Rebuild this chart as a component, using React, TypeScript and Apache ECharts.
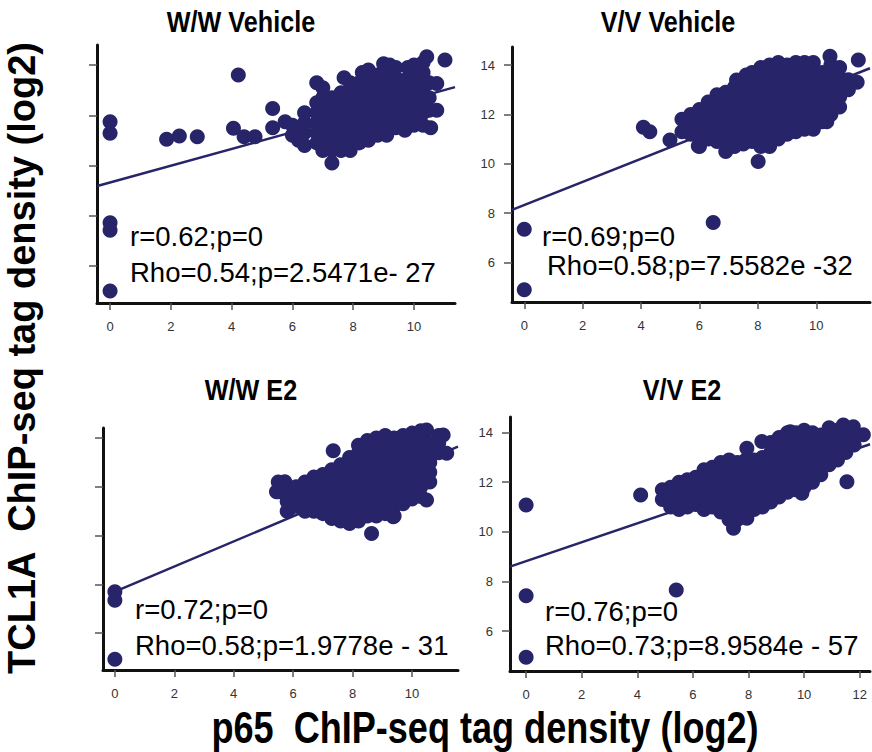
import React, { useEffect, useRef } from "react";
import * as echarts from "echarts";

// ---------- data ----------
const titles = ["W/W Vehicle", "V/V Vehicle", "W/W E2", "V/V E2"];
const statR = ["r=0.62;p=0", "r=0.69;p=0", "r=0.72;p=0", "r=0.76;p=0"];
const statRho = [
  "Rho=0.54;p=2.5471e- 27",
  "Rho=0.58;p=7.5582e -32",
  "Rho=0.58;p=1.9778e - 31",
  "Rho=0.73;p=8.9584e - 57",
];
const yAxisTitle = "TCL1A  ChIP-seq tag density (log2)";
const xAxisTitle = "p65  ChIP-seq tag density (log2)";
const xTicks = [0, 2, 4, 6, 8, 10];
const xTicksWide = [0, 2, 4, 6, 8, 10, 12];
const yTicks = [6, 8, 10, 12, 14];

const wwVehiclePoints: number[][] = [
  [0, 11.74], [0, 11.28], [0, 7.72], [0, 7.42], [0, 5.0],
  [1.86, 11.04], [2.28, 11.17], [2.87, 11.14], [4.22, 13.6], [4.06, 11.48],
  [4.41, 11.14], [4.77, 11.14], [5.35, 12.27], [5.35, 11.5], [5.76, 11.74],
  [6.0, 11.2], [6.0, 11.6], [6.2, 11.0], [6.2, 11.4],
  [6.4, 10.8], [6.4, 11.3], [6.4, 11.7], [6.4, 12.1],
  [6.8, 10.9], [6.8, 11.3], [6.8, 11.7], [6.8, 12.1], [6.8, 12.5], [6.8, 13.3],
  [7.0, 10.6], [7.0, 11.0], [7.0, 11.5], [7.0, 11.9], [7.0, 12.3], [7.0, 12.7], [7.0, 13.1],
  [7.3, 10.1], [7.3, 10.6], [7.3, 11.1], [7.3, 11.5], [7.3, 11.9], [7.3, 12.3], [7.3, 12.7],
  [7.6, 10.6], [7.6, 10.9], [7.6, 11.3], [7.6, 11.7], [7.6, 12.1], [7.6, 12.5], [7.6, 12.9], [7.7, 13.5],
  [7.9, 10.6], [7.9, 11.0], [7.9, 11.4], [7.9, 11.8], [7.9, 12.2], [7.9, 12.6], [7.9, 13.0], [7.9, 13.3],
  [8.2, 10.9], [8.2, 11.3], [8.2, 11.7], [8.2, 12.1], [8.2, 12.5], [8.2, 12.9], [8.2, 13.3], [8.3, 13.7],
  [8.5, 11.0], [8.5, 11.4], [8.5, 11.8], [8.5, 12.2], [8.5, 12.6], [8.5, 13.0], [8.5, 13.4], [8.5, 13.8],
  [8.8, 11.2], [8.8, 11.6], [8.8, 12.0], [8.8, 12.4], [8.8, 12.8], [8.8, 13.2], [8.8, 13.6], [9.0, 14.05],
  [9.1, 11.2], [9.1, 11.6], [9.1, 12.0], [9.1, 12.4], [9.1, 12.8], [9.1, 13.2], [9.1, 13.6], [9.2, 14.0],
  [9.4, 11.5], [9.4, 11.9], [9.4, 12.3], [9.4, 12.7], [9.4, 13.1], [9.4, 13.5], [9.4, 13.9],
  [9.7, 11.4], [9.7, 11.8], [9.7, 12.2], [9.7, 12.6], [9.7, 13.0], [9.7, 13.4], [9.8, 13.9],
  [10.0, 11.6], [10.0, 12.0], [10.0, 12.4], [10.0, 12.8], [10.0, 13.2], [10.0, 13.6], [10.0, 14.0],
  [10.3, 11.6], [10.3, 12.1], [10.3, 12.5], [10.3, 12.9], [10.3, 13.3], [10.3, 13.7], [10.3, 14.1],
  [10.55, 11.5], [10.5, 12.2], [10.5, 12.7], [10.5, 13.3], [10.42, 14.33],
  [10.75, 12.2], [10.75, 13.27], [11.02, 14.2],
];

const vvVehiclePoints: number[][] = [
  [0, 7.35], [0, 4.9], [6.47, 7.62], [4.08, 11.48], [4.3, 11.3], [4.99, 10.96],
  [5.96, 10.72], [8.01, 10.09], [10.47, 14.36], [11.44, 14.2], [10.36, 11.7], [7.27, 13.39],
  [5.4, 11.3], [5.4, 11.8],
  [5.7, 11.2], [5.7, 11.6], [5.7, 12.0],
  [6.0, 10.7], [6.0, 11.1], [6.0, 11.5], [6.0, 11.9], [6.0, 12.2],
  [6.3, 11.0], [6.3, 11.4], [6.3, 11.8], [6.3, 12.2], [6.3, 12.5],
  [6.6, 10.9], [6.6, 11.3], [6.6, 11.7], [6.6, 12.1], [6.6, 12.5], [6.6, 12.8],
  [6.9, 10.5], [6.9, 10.9], [6.9, 11.3], [6.9, 11.7], [6.9, 12.1], [6.9, 12.5], [6.9, 12.9],
  [7.2, 10.7], [7.2, 11.1], [7.2, 11.5], [7.2, 11.9], [7.2, 12.3], [7.2, 12.7], [7.2, 13.1],
  [7.5, 10.8], [7.5, 11.2], [7.5, 11.6], [7.5, 12.0], [7.5, 12.4], [7.5, 12.8], [7.5, 13.2], [7.6, 13.6],
  [7.8, 10.9], [7.8, 11.3], [7.8, 11.7], [7.8, 12.1], [7.8, 12.5], [7.8, 12.9], [7.8, 13.3], [7.8, 13.7],
  [8.1, 10.7], [8.1, 11.1], [8.1, 11.5], [8.1, 11.9], [8.1, 12.3], [8.1, 12.7], [8.1, 13.1], [8.1, 13.5], [8.1, 13.9],
  [8.4, 10.7], [8.4, 11.1], [8.4, 11.5], [8.4, 11.9], [8.4, 12.3], [8.4, 12.7], [8.4, 13.1], [8.4, 13.5], [8.4, 14.0],
  [8.7, 11.0], [8.7, 11.4], [8.7, 11.8], [8.7, 12.2], [8.7, 12.6], [8.7, 13.0], [8.7, 13.4], [8.7, 13.8], [8.7, 14.1],
  [9.0, 11.2], [9.0, 11.6], [9.0, 12.0], [9.0, 12.4], [9.0, 12.8], [9.0, 13.2], [9.0, 13.6], [9.0, 14.0],
  [9.3, 11.3], [9.3, 11.7], [9.3, 12.1], [9.3, 12.5], [9.3, 12.9], [9.3, 13.3], [9.3, 13.7], [9.3, 14.1],
  [9.6, 11.4], [9.6, 11.8], [9.6, 12.2], [9.6, 12.6], [9.6, 13.0], [9.6, 13.4], [9.6, 13.8], [9.6, 14.1],
  [9.9, 11.4], [9.9, 11.8], [9.9, 12.2], [9.9, 12.6], [9.9, 13.0], [9.9, 13.4], [9.9, 13.8], [9.9, 14.1],
  [10.2, 11.7], [10.2, 12.1], [10.2, 12.5], [10.2, 12.9], [10.2, 13.3], [10.2, 13.7],
  [10.5, 12.0], [10.5, 12.4], [10.5, 12.8], [10.5, 13.2], [10.5, 13.6], [10.5, 14.0],
  [10.8, 12.3], [10.8, 12.7], [10.8, 13.1], [10.8, 13.5], [10.8, 13.9],
  [11.1, 13.0], [11.1, 13.4], [11.4, 13.3],
];

const wwE2Points: number[][] = [
  [0, 7.7], [0, 7.35], [0, 4.93], [7.35, 13.48], [5.72, 12.21], [5.44, 11.8],
  [5.84, 11.05], [8.64, 10.09], [9.37, 10.77], [10.49, 14.33], [11.05, 14.12],
  [11.17, 13.37], [10.49, 11.46],
  [5.5, 11.8], [5.5, 12.2],
  [5.8, 11.0], [5.8, 11.4], [5.8, 11.8],
  [6.1, 11.2], [6.1, 11.6], [6.1, 12.0],
  [6.4, 11.0], [6.4, 11.4], [6.4, 11.8], [6.4, 12.2],
  [6.7, 11.0], [6.7, 11.3], [6.7, 11.7], [6.7, 12.1], [6.7, 12.4],
  [7.0, 10.9], [7.0, 11.3], [7.0, 11.7], [7.0, 12.1], [7.0, 12.5],
  [7.3, 10.7], [7.3, 11.1], [7.3, 11.5], [7.3, 11.9], [7.3, 12.3], [7.3, 12.7],
  [7.6, 10.6], [7.6, 11.0], [7.6, 11.4], [7.6, 11.8], [7.6, 12.2], [7.6, 12.6], [7.6, 12.9],
  [7.9, 10.5], [7.9, 10.9], [7.9, 11.3], [7.9, 11.7], [7.9, 12.1], [7.9, 12.5], [7.9, 12.9], [7.9, 13.2],
  [8.2, 10.6], [8.2, 11.0], [8.2, 11.4], [8.2, 11.8], [8.2, 12.2], [8.2, 12.6], [8.2, 13.0], [8.2, 13.4], [8.2, 13.7],
  [8.5, 10.8], [8.5, 11.2], [8.5, 11.6], [8.5, 12.0], [8.5, 12.4], [8.5, 12.8], [8.5, 13.2], [8.5, 13.6], [8.5, 13.9],
  [8.8, 10.8], [8.8, 11.2], [8.8, 11.6], [8.8, 12.0], [8.8, 12.4], [8.8, 12.8], [8.8, 13.2], [8.8, 13.6], [8.8, 14.0],
  [9.1, 10.9], [9.1, 11.3], [9.1, 11.7], [9.1, 12.1], [9.1, 12.5], [9.1, 12.9], [9.1, 13.3], [9.1, 13.7], [9.1, 14.1],
  [9.4, 10.8], [9.4, 11.2], [9.4, 11.6], [9.4, 12.0], [9.4, 12.4], [9.4, 12.8], [9.4, 13.2], [9.4, 13.6], [9.4, 14.0],
  [9.7, 11.3], [9.7, 11.7], [9.7, 12.1], [9.7, 12.5], [9.7, 12.9], [9.7, 13.3], [9.7, 13.7], [9.7, 14.1],
  [10.0, 11.5], [10.0, 11.9], [10.0, 12.3], [10.0, 12.7], [10.0, 13.1], [10.0, 13.5], [10.0, 13.9], [10.0, 14.2],
  [10.3, 11.6], [10.3, 12.0], [10.3, 12.4], [10.3, 12.8], [10.3, 13.2], [10.3, 13.6], [10.3, 14.0], [10.3, 14.3],
  [10.6, 12.2], [10.6, 12.6], [10.6, 13.0], [10.6, 13.4], [10.6, 13.8],
  [10.9, 13.4], [10.9, 13.8], [10.9, 14.1],
];

const vvE2Points: number[][] = [
  [0, 11.08], [0, 7.42], [0, 4.94], [5.4, 7.66], [4.12, 11.49], [11.54, 12.02],
  [7.94, 13.37], [8.48, 13.64], [7.46, 10.14], [7.94, 10.55], [9.92, 11.56],
  [11.41, 14.31], [11.77, 14.24], [12.13, 13.91], [9.5, 14.04],
  [4.9, 11.3], [4.9, 11.7],
  [5.2, 11.0], [5.2, 11.4], [5.2, 11.8],
  [5.5, 10.9], [5.5, 11.3], [5.5, 11.7], [5.5, 12.0],
  [5.8, 11.0], [5.8, 11.4], [5.8, 11.8], [5.8, 12.1],
  [6.1, 11.1], [6.1, 11.5], [6.1, 11.9], [6.1, 12.2],
  [6.4, 10.9], [6.4, 11.3], [6.4, 11.7], [6.4, 12.1], [6.4, 12.5],
  [6.7, 11.0], [6.7, 11.4], [6.7, 11.8], [6.7, 12.2], [6.7, 12.6],
  [7.0, 10.8], [7.0, 11.2], [7.0, 11.6], [7.0, 12.0], [7.0, 12.4], [7.0, 12.8],
  [7.3, 10.5], [7.3, 10.9], [7.3, 11.3], [7.3, 11.7], [7.3, 12.1], [7.3, 12.5], [7.3, 12.9],
  [7.6, 10.5], [7.6, 10.9], [7.6, 11.3], [7.6, 11.7], [7.6, 12.1], [7.6, 12.5], [7.6, 12.8],
  [7.9, 10.6], [7.9, 11.0], [7.9, 11.4], [7.9, 11.8], [7.9, 12.2], [7.9, 12.6], [7.9, 12.9],
  [8.2, 10.9], [8.2, 11.3], [8.2, 11.7], [8.2, 12.1], [8.2, 12.5], [8.2, 12.9],
  [8.5, 11.0], [8.5, 11.4], [8.5, 11.8], [8.5, 12.2], [8.5, 12.6], [8.5, 13.0],
  [8.8, 11.2], [8.8, 11.6], [8.8, 12.0], [8.8, 12.4], [8.8, 12.8], [8.8, 13.2], [8.8, 13.6],
  [9.1, 11.4], [9.1, 11.8], [9.1, 12.2], [9.1, 12.6], [9.1, 13.0], [9.1, 13.4], [9.1, 13.8],
  [9.4, 11.6], [9.4, 12.0], [9.4, 12.4], [9.4, 12.8], [9.4, 13.2], [9.4, 13.6], [9.4, 14.0],
  [9.7, 11.7], [9.7, 12.1], [9.7, 12.5], [9.7, 12.9], [9.7, 13.3], [9.7, 13.7], [9.7, 14.0],
  [10.0, 11.8], [10.0, 12.2], [10.0, 12.6], [10.0, 13.0], [10.0, 13.4], [10.0, 13.8], [10.0, 14.1],
  [10.3, 12.0], [10.3, 12.4], [10.3, 12.8], [10.3, 13.2], [10.3, 13.6], [10.3, 14.0],
  [10.6, 12.3], [10.6, 12.7], [10.6, 13.1], [10.6, 13.5], [10.6, 13.9],
  [10.9, 12.7], [10.9, 13.1], [10.9, 13.5], [10.9, 13.9], [10.9, 14.2],
  [11.2, 12.9], [11.2, 13.3], [11.2, 13.7], [11.2, 14.1],
  [11.5, 13.2], [11.5, 13.6], [11.5, 14.0],
  [11.8, 13.5], [11.8, 13.9],
];

// regression line end points [x, y]
const wwVehicleFit = [[-0.42, 9.18], [11.35, 13.12]];
const vvVehicleFit = [[-0.42, 8.13], [11.84, 13.87]];
const wwE2Fit = [[0, 7.7], [11.55, 13.65]];
const vvE2Fit = [[-0.58, 8.6], [12.37, 13.53]];

const panelPoints = [wwVehiclePoints, vvVehiclePoints, wwE2Points, vvE2Points];
const panelFits = [wwVehicleFit, vvVehicleFit, wwE2Fit, vvE2Fit];

// ---------- layout ----------
const grids = [
  { left: 97, top: 45, width: 358, height: 258 },
  { left: 512, top: 47, width: 358, height: 255 },
  { left: 103, top: 428, width: 355, height: 242 },
  { left: 510, top: 417, width: 360, height: 254 },
];
const xRanges = [[-0.43, 11.35], [-0.42, 11.84], [-0.4, 11.55], [-0.58, 12.37]];
const yRanges = [[4.52, 14.8], [4.4, 14.73], [4.49, 14.41], [4.39, 14.63]];
const showYLabels = [false, true, false, true];
const xTickSets = [xTicks, xTicks, xTicks, xTicksWide];
const titlePos = [[241, 22], [668, 22], [251, 390], [682, 390]];
const statPos = [
  [[130, 236], [130, 272]],
  [[542, 236], [547, 265]],
  [[135, 609], [135, 645]],
  [[545, 611], [545, 645]],
];

const DOT = "#272469";
const FONT = '"Liberation Sans", Arial, sans-serif';

export default function App() {
  const ref = useRef<HTMLDivElement>(null);
  useEffect(() => {
    if (!ref.current) return;
    const chart = echarts.init(ref.current, undefined, { renderer: "svg" });

    const xAxis = grids.map((_, i) => ({
      type: "value",
      gridIndex: i,
      min: xRanges[i][0],
      max: xRanges[i][1],
      axisLine: { show: true, onZero: false, lineStyle: { color: "#111", width: 3 } },
      axisTick: {
        show: true,
        customValues: xTickSets[i],
        length: 7,
        lineStyle: { color: "#555", width: 1.5 },
      },
      axisLabel: {
        show: true,
        customValues: xTickSets[i],
        margin: 17,
        color: "#333",
        fontSize: 13,
        fontFamily: FONT,
      },
      splitLine: { show: false },
    }));

    const yAxis = grids.map((_, i) => ({
      type: "value",
      gridIndex: i,
      min: yRanges[i][0],
      max: yRanges[i][1],
      axisLine: { show: true, onZero: false, lineStyle: { color: "#111", width: 3 } },
      axisTick: {
        show: true,
        customValues: yTicks,
        length: 8,
        lineStyle: { color: "#555", width: 1.5 },
      },
      axisLabel: {
        show: showYLabels[i],
        customValues: yTicks,
        margin: 17,
        color: "#333",
        fontSize: 13,
        fontFamily: FONT,
      },
      splitLine: { show: false },
    }));

    const series: any[] = [];
    panelFits.forEach((fit, i) => {
      series.push({
        type: "line",
        xAxisIndex: i,
        yAxisIndex: i,
        data: fit,
        symbol: "none",
        lineStyle: { color: DOT, width: 2.5 },
        z: 2,
      });
    });
    panelPoints.forEach((pts, i) => {
      series.push({
        type: "scatter",
        xAxisIndex: i,
        yAxisIndex: i,
        data: pts,
        symbol: "circle",
        symbolSize: 15,
        itemStyle: { color: DOT, opacity: 1 },
        z: 3,
      });
    });

    const graphic: any[] = [];
    titles.forEach((t, i) => {
      graphic.push({
        type: "text",
        x: titlePos[i][0],
        y: titlePos[i][1],
        scaleX: 0.84,
        style: {
          text: t,
          font: `bold 30px ${FONT}`,
          fill: "#000",
          align: "center",
          verticalAlign: "middle",
          textAlign: "center",
          textVerticalAlign: "middle",
        },
      });
    });
    statR.forEach((t, i) => {
      [t, statRho[i]].forEach((s, j) => {
        graphic.push({
          type: "text",
          x: statPos[i][j][0],
          y: statPos[i][j][1],
          style: {
            text: s,
            font: `27.5px ${FONT}`,
            fill: "#000",
            align: "left",
            verticalAlign: "middle",
            textAlign: "left",
            textVerticalAlign: "middle",
          },
          z: 10,
        });
      });
    });
    graphic.push({
      type: "text",
      x: 22,
      y: 358,
      rotation: Math.PI / 2,
      style: {
        text: yAxisTitle,
        font: `bold 38px ${FONT}`,
        fill: "#000",
        align: "center",
        verticalAlign: "middle",
        textAlign: "center",
        textVerticalAlign: "middle",
      },
    });
    graphic.push({
      type: "text",
      x: 485,
      y: 728,
      scaleX: 0.82,
      style: {
        text: xAxisTitle,
        font: `bold 44px ${FONT}`,
        fill: "#000",
        align: "center",
        verticalAlign: "middle",
        textAlign: "center",
        textVerticalAlign: "middle",
      },
    });

    chart.setOption({
      animation: false,
      backgroundColor: "#fff",
      grid: grids.map((g) => ({ ...g, containLabel: false })),
      xAxis,
      yAxis,
      series,
      graphic,
    });
    return () => chart.dispose();
  }, []);

  return (
    <div
      ref={ref}
      style={{ position: "absolute", left: 0, top: 0, width: 872, height: 752 }}
    />
  );
}
